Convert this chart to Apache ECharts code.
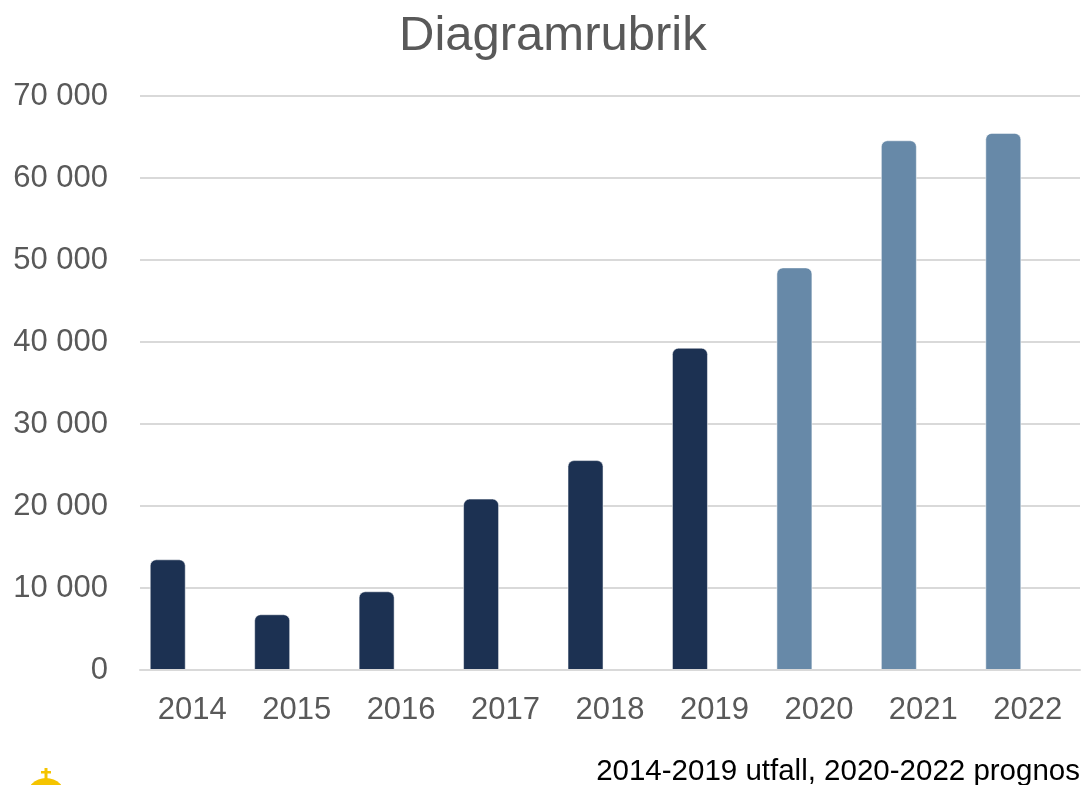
<!DOCTYPE html>
<html>
<head>
<meta charset="utf-8">
<script src="https://cdn.jsdelivr.net/npm/echarts@6/dist/echarts.min.js"></script>
<style>
  html, body { margin: 0; padding: 0; background: #fff; }
  #chart { width: 1084px; height: 785px; }
</style>
</head>
<body>
<div id="chart"></div>
<script>
// data
const years = ['2014', '2015', '2016', '2017', '2018', '2019', '2020', '2021', '2022']
const values = [13500, 6800, 9600, 20900, 25600, 39300, 49100, 64600, 65500]
const isForecast = [false, false, false, false, false, false, true, true, true]
const footnote = '2014-2019 utfall, 2020-2022 prognos'

const DARK = '#1c3152'
const LIGHT = '#6789a8'

const chart = echarts.init(document.getElementById('chart'), null, { renderer: 'canvas' })

const fmt = v => String(v).replace(/\B(?=(\d{3})+(?!\d))/g, ' ')

chart.setOption({
  animation: false,
  backgroundColor: '#fff',
  textStyle: { fontFamily: 'Liberation Sans, Arial, sans-serif' },
  title: {
    text: 'Diagramrubrik',
    left: 394,
    top: 7,
    textStyle: { color: '#595959', fontSize: 49, fontWeight: 'normal', fontFamily: 'Liberation Sans, Arial, sans-serif' },
  },
  grid: { left: 140, right: 4, top: 96, bottom: 115 },
  xAxis: {
    type: 'category',
    data: years,
    z: 3,
    axisLine: { show: true, lineStyle: { color: '#d9d9d9', width: 2 } },
    axisTick: { show: false },
    axisLabel: { color: '#595959', fontSize: 31, margin: 25 },
  },
  yAxis: {
    type: 'value',
    min: 0,
    max: 70000,
    interval: 10000,
    axisLine: { show: false },
    axisTick: { show: false },
    axisLabel: { color: '#595959', fontSize: 31, margin: 32, formatter: fmt },
    splitLine: { lineStyle: { color: '#d9d9d9', width: 2 } },
  },
  series: [
    {
      type: 'bar',
      barWidth: 36,
      barGap: '36%',
      data: values.map((v, i) => ({
        value: v,
        itemStyle: { color: isForecast[i] ? LIGHT : DARK },
      })),
      itemStyle: { borderRadius: [6, 6, 0, 0], borderColor: 'rgba(255,255,255,0.5)', borderWidth: 1 },
    },
    {
      // empty second slot, as in the original clustered layout
      type: 'bar',
      barWidth: 36,
      data: years.map(() => null),
    },
  ],
  graphic: [
    {
      type: 'text',
      right: 4,
      bottom: -2,
      style: { text: footnote, fill: '#000', font: '29.5px "Liberation Sans", Arial, sans-serif' },
    },
    {
      type: 'group',
      left: 26,
      top: 768,
      children: [
        { type: 'rect', shape: { x: 16.5, y: 0, width: 3, height: 12 }, style: { fill: '#f5c400' } },
        { type: 'rect', shape: { x: 13, y: 3, width: 10, height: 2.5 }, style: { fill: '#f5c400' } },
        { type: 'sector', shape: { cx: 18, cy: 30, r: 20, r0: 0, startAngle: Math.PI, endAngle: Math.PI * 2 }, style: { fill: '#f5c400' } },
      ],
    },
  ],
})
</script>
</body>
</html>
